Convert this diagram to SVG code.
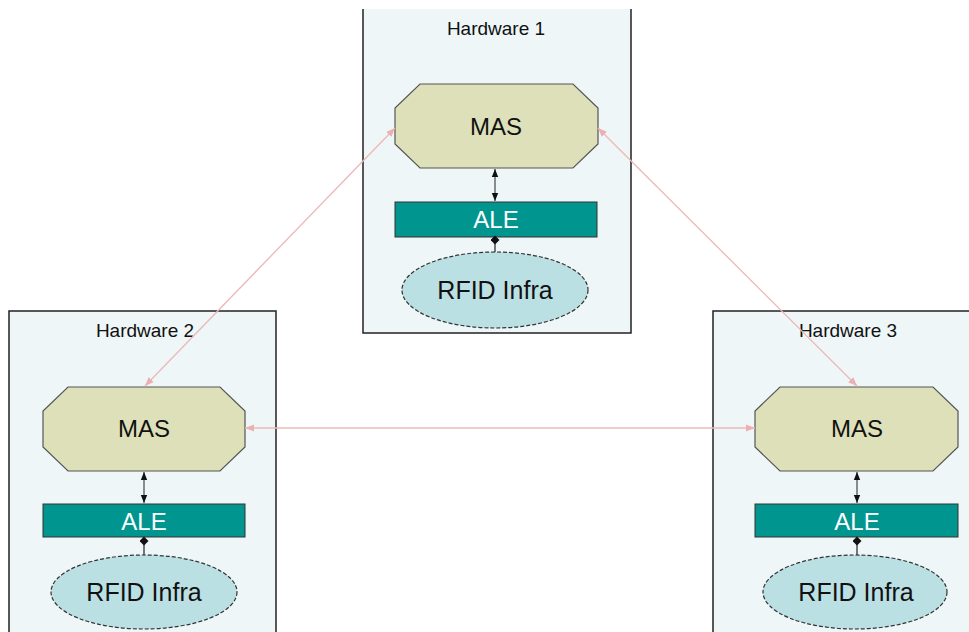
<svg xmlns="http://www.w3.org/2000/svg" width="969" height="632" viewBox="0 0 969 632">
  <defs>
    <style>
      .hw { fill: #eef6f8; stroke: #222; stroke-width: 1.5; }
      .hwlabel { font-family: "Liberation Sans", Arial, sans-serif; font-size: 19px; fill: #111; text-anchor: middle; }
      .mas { fill: #dde0b9; stroke: #555; stroke-width: 1.2; }
      .mastext { font-family: "Liberation Sans", Arial, sans-serif; font-size: 24px; fill: #111; text-anchor: middle; }
      .ale { fill: #00968f; stroke: #333; stroke-width: 1; }
      .aletext { font-family: "Liberation Sans", Arial, sans-serif; font-size: 24px; fill: #ffffff; text-anchor: middle; }
      .rfid { fill: #bbe0e4; stroke: #333; stroke-width: 1.2; stroke-dasharray: 4 2; }
      .rfidtext { font-family: "Liberation Sans", Arial, sans-serif; font-size: 25px; fill: #111; text-anchor: middle; }
      .peer { stroke: #ecb8b8; stroke-width: 1.3; fill: none; marker-start: url(#pinkArrow); marker-end: url(#pinkArrow); }
      .local { stroke: #222; stroke-width: 1; fill: none; marker-start: url(#blackArrow); marker-end: url(#blackArrow); }
      .link { stroke: #222; stroke-width: 1.2; fill: none; }
    </style>
    <marker id="pinkArrow" viewBox="0 0 10 10" refX="10" refY="5" markerWidth="9" markerHeight="9" markerUnits="userSpaceOnUse" orient="auto-start-reverse">
      <path d="M0,1 L10,5 L0,9 Z" fill="#ecb0b0"/>
    </marker>
    <marker id="blackArrow" viewBox="0 0 10 10" refX="10" refY="5" markerWidth="8" markerHeight="8" markerUnits="userSpaceOnUse" orient="auto-start-reverse">
      <path d="M0,1 L10,5 L0,9 Z" fill="#111"/>
    </marker>
    <marker id="diamond" viewBox="0 0 10 10" refX="5" refY="5" markerWidth="9" markerHeight="11" markerUnits="userSpaceOnUse">
      <path d="M5,0 L10,5 L5,10 L0,5 Z" fill="#111"/>
    </marker>
  </defs>

  <!-- Hardware 1 -->
  <g id="hardware1">
    <rect x="363" y="9" width="268" height="324" fill="#eef6f8"/>
    <path d="M363,9 V333 H631 V9" fill="none" stroke="#222" stroke-width="1.5"/>
    <text class="hwlabel" x="496" y="35">Hardware 1</text>
  </g>
  <g id="mas1">
    <polygon class="mas" points="420,84 573,84 598,108 598,144 573,168 420,168 395,144 395,108"/>
    <text class="mastext" x="496" y="135">MAS</text>
  </g>
  <g id="ale1">
    <rect class="ale" x="395" y="202" width="202" height="35"/>
    <text class="aletext" x="496" y="228">ALE</text>
  </g>
  <g id="rfid1">
    <ellipse class="rfid" cx="495" cy="290" rx="93" ry="38"/>
    <text class="rfidtext" x="495" y="299">RFID Infra</text>
  </g>

  <!-- Hardware 2 -->
  <g id="hardware2">
    <rect class="hw" x="9" y="311" width="267" height="330"/>
    <text class="hwlabel" x="145" y="337">Hardware 2</text>
  </g>
  <g id="mas2">
    <polygon class="mas" points="68,387 220,387 245,411 245,447 220,471 68,471 43,447 43,411"/>
    <text class="mastext" x="144" y="437">MAS</text>
  </g>
  <g id="ale2">
    <rect class="ale" x="43" y="504" width="202" height="33"/>
    <text class="aletext" x="144" y="530">ALE</text>
  </g>
  <g id="rfid2">
    <ellipse class="rfid" cx="144" cy="592" rx="93" ry="37"/>
    <text class="rfidtext" x="144" y="601">RFID Infra</text>
  </g>

  <!-- Hardware 3 -->
  <g id="hardware3">
    <rect class="hw" x="713" y="311" width="270" height="330"/>
    <text class="hwlabel" x="848" y="337">Hardware 3</text>
  </g>
  <g id="mas3">
    <polygon class="mas" points="780,387 933,387 958,411 958,447 933,471 780,471 755,447 755,411"/>
    <text class="mastext" x="857" y="437">MAS</text>
  </g>
  <g id="ale3">
    <rect class="ale" x="755" y="504" width="203" height="33"/>
    <text class="aletext" x="857" y="530">ALE</text>
  </g>
  <g id="rfid3">
    <ellipse class="rfid" cx="855" cy="592" rx="92" ry="37"/>
    <text class="rfidtext" x="856" y="601">RFID Infra</text>
  </g>

  <!-- Connectors -->
  <g id="connectors">
    <!-- MAS peer links between hardware nodes -->
    <line class="peer" x1="395" y1="128" x2="145" y2="386"/>
    <line class="peer" x1="598" y1="128" x2="857" y2="386"/>
    <line class="peer" x1="245" y1="428" x2="755" y2="428"/>

    <!-- MAS to ALE -->
    <line class="local" x1="495" y1="169" x2="495" y2="201"/>
    <line class="local" x1="144" y1="472" x2="144" y2="503"/>
    <line class="local" x1="857" y1="472" x2="857" y2="503"/>

    <!-- ALE to RFID infrastructure -->
    <line class="link" x1="495" y1="240" x2="495" y2="252" marker-start="url(#diamond)"/>
    <line class="link" x1="144" y1="541" x2="144" y2="555" marker-start="url(#diamond)"/>
    <line class="link" x1="857" y1="541" x2="857" y2="555" marker-start="url(#diamond)"/>
  </g>
</svg>
